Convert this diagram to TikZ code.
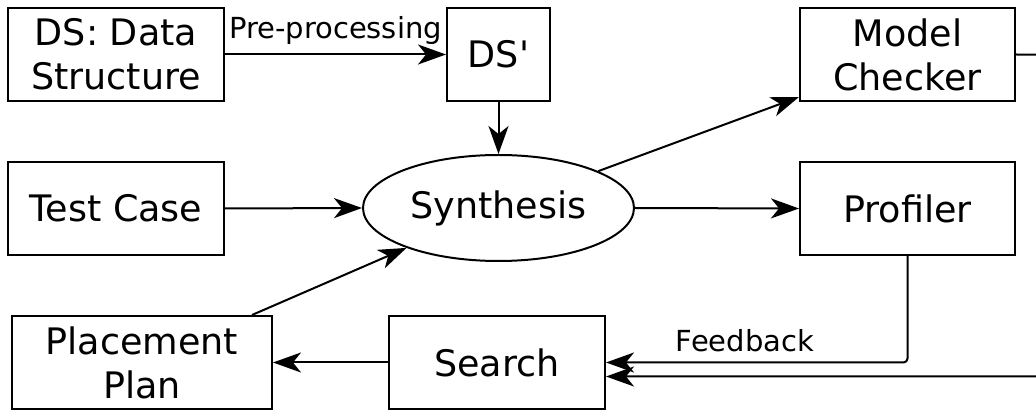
\documentclass[tikz,border=0pt]{standalone}
\usepackage{fontspec}
\newfontfamily\dv{DejaVu Sans}
\usetikzlibrary{arrows.meta,shapes.geometric}
\begin{document}
\begin{tikzpicture}[x=1pt,y=-1pt,
  box/.style={draw, line width=2pt, inner sep=0pt, align=center, font=\dv\fontsize{36.5}{44}\selectfont},
  oval/.style={draw, ellipse, line width=2pt, inner sep=0pt, font=\dv\fontsize{36.5}{44}\selectfont},
  lbl/.style={inner sep=0pt, font=\dv\fontsize{29}{34}\selectfont},
  arr/.style={-{Stealth[length=28pt,width=20pt,inset=8pt]}, line width=2pt}]
\useasboundingbox (0,0) rectangle (1036,411);
\clip (0,0) rectangle (1036,411);
\node[box, minimum width=216, minimum height=93] (ds) at (116,54.5) {DS: Data\\Structure};
\node[box, minimum width=103, minimum height=93] (dsp) at (498.5,54.5) {DS'};
\node[box, minimum width=215, minimum height=93] (mc) at (907.5,54.5) {Model\\Checker};
\node[box, minimum width=216, minimum height=93] (tc) at (116,208.5) {Test Case};
\node[oval, minimum width=271, minimum height=106] (syn) at (498.5,208) {Synthesis};
\node[box, minimum width=215, minimum height=93] (prof) at (907.5,208.5) {Profiler};
\node[box, minimum width=260, minimum height=93] (pp) at (142,362.5) {Placement\\Plan};
\node[box, minimum width=216, minimum height=93] (search) at (497,362.5) {Search};
\coordinate (r1) at (1100,55);
\draw[arr] (ds.east) -- node[lbl, above=9pt] (pre) {Pre-processing} (dsp.west);
\draw[arr] (dsp.south) -- (syn.north);
\draw[arr] (tc.east) -- (syn.west);
\draw[arr] (syn) -- ([yshift=5pt]mc.south west);
\draw[arr] (syn.east) -- (prof.west);
\draw[arr] ([xshift=110pt]pp.north) -- (syn);
\draw[arr] (search.west) -- (pp.east);
\draw[arr, rounded corners=4pt] (prof.south) |- (search.east);
\node[lbl, anchor=base] (fb) at (745,352) {Feedback};
\draw[arr] (mc.east) -- (r1) |- ([yshift=-14pt]search.east);
\end{tikzpicture}
\end{document}
